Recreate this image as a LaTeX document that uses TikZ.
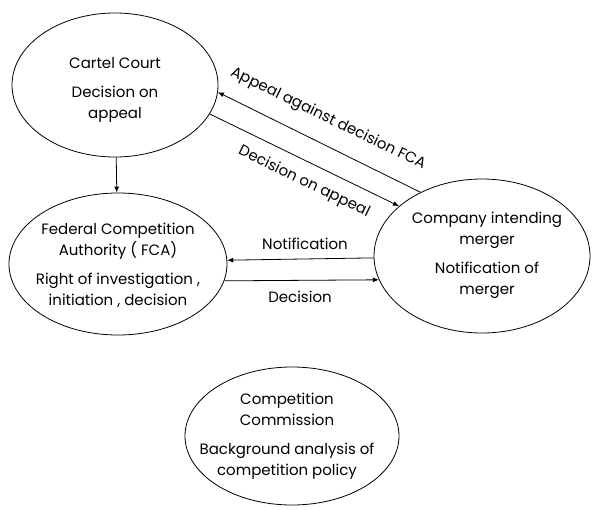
\documentclass[tikz,border=0pt]{standalone}
\usepackage{fontspec}
\setmainfont{Poppins}
\usetikzlibrary{shapes.geometric,arrows.meta}

\tikzset{
  party/.style={draw, ellipse, line width=0.8pt, inner sep=0pt},
  words/.style={align=center, font=\fontsize{15}{21}\selectfont},
  tag/.style={font=\fontsize{15}{18}\selectfont, inner sep=1pt},
  flow/.style={line width=0.8pt, -{Latex[length=6pt,width=5pt]}},
}

\begin{document}
\begin{tikzpicture}[x=1pt,y=-1pt]
    \useasboundingbox (0,0) rectangle (592,509);
    % the four parties
    \node[party, minimum width=206pt, minimum height=144pt] (cartel) at (115,85) {};
    \node[party, minimum width=218pt, minimum height=142pt] (fca) at (118,264) {};
    \node[party, minimum width=216pt, minimum height=154pt] (company) at (482,256) {};
    \node[party, minimum width=214pt, minimum height=138pt] (commission) at (292,436) {};
    \node[words] (cartelname) at (115,90) {Cartel Court\\[8pt] Decision on\\ appeal};
    \node[words] (fcaname) at (118,265) {Federal Competition\\ Authority ( FCA)\\[8pt] Right of investigation ,\\ initiation , decision};
    \node[words] (companyname) at (487,255) {Company intending\\ merger\\[8pt] Notification of\\ merger};
    \node[words] (commissionname) at (287,436) {Competition\\ Commission\\[8pt] Background analysis of\\ competition policy};
    % connectors
    \draw[flow] (cartel) -- (fca);
    \draw[flow] (company.134) -- (cartel.-4);
    \draw[flow] (cartel.-17) -- (company.149);
    \draw[flow] (company.181.6) -- (fca.2.6);
    \draw[flow] (fca.-9) -- (company.193.7);
    \node[tag, rotate=-26] (appeal) at (328,119) {Appeal against decision FCA};
    \node[tag, rotate=-26] (ruling) at (304,182) {Decision on appeal};
    \node[tag] (notice) at (305,244) {Notification};
    \node[tag] (verdict) at (300,297) {Decision};
\end{tikzpicture}
\end{document}
